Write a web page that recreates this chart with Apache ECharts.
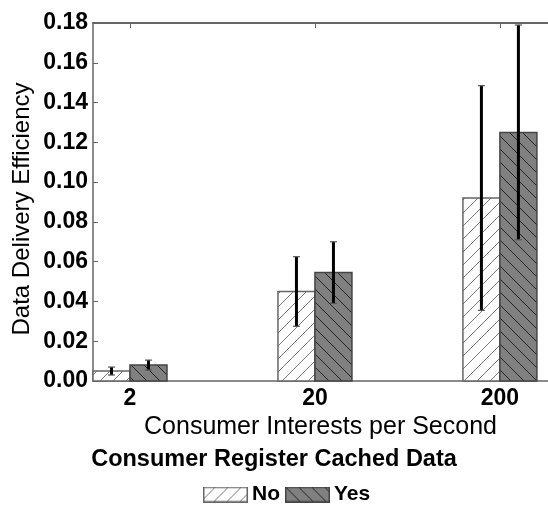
<!DOCTYPE html>
<html><head><meta charset="utf-8">
<script src="https://cdn.jsdelivr.net/npm/echarts@6/dist/echarts.min.js"></script>
<style>html,body{margin:0;padding:0;background:#fff}#c{width:548px;height:506px}</style>
</head><body><div id="c"></div>
<script>
// ---- data ----
const categories = ['2', '20', '200'];
const seriesNames = ['No', 'Yes'];
const noValues = [0.005, 0.045, 0.092];
const noErrors = [0.002, 0.0175, 0.0565];
const yesValues = [0.008, 0.0545, 0.125];
const yesErrors = [0.0025, 0.0155, 0.054];
const yMin = 0, yMax = 0.18, yStep = 0.02;
const xTitle = 'Consumer Interests per Second';
const yTitle = 'Data Delivery Efficiency';
const legendTitle = 'Consumer Register Cached Data';

// ---- style ----
const FONT = '"Liberation Sans", Arial, sans-serif';
const BAR_W = 0.2;
const HATCH = 13;
const AXIS_COLOR = '#666';

function hatchLines(x0, y0, x1, y1, dir, color) {
  const out = [];
  if (dir === 'fwd') { // "/" : x + y = c
    const cs = Math.ceil((x0 + y0) / HATCH), ce = Math.floor((x1 + y1) / HATCH);
    for (let k = cs; k <= ce; k++) {
      const c = k * HATCH;
      const xa = Math.max(x0, c - y1), xb = Math.min(x1, c - y0);
      if (xb > xa) out.push({type: 'line', shape: {x1: xa, y1: c - xa, x2: xb, y2: c - xb}, style: {stroke: color, lineWidth: 1}});
    }
  } else { // "\" : x - y = c
    const cs = Math.ceil((x0 - y1) / HATCH), ce = Math.floor((x1 - y0) / HATCH);
    for (let k = cs; k <= ce; k++) {
      const c = k * HATCH;
      const xa = Math.max(x0, c + y0), xb = Math.min(x1, c + y1);
      if (xb > xa) out.push({type: 'line', shape: {x1: xa, y1: xa - c, x2: xb, y2: xb - c}, style: {stroke: color, lineWidth: 1}});
    }
  }
  return out;
}

function makeRender(side, fill, edge, dir, hatchColor) {
  return function (params, api) {
    const cat = api.value(0), val = api.value(1), err = api.value(2);
    const left = side === 0 ? cat - BAR_W : cat;
    const right = left + BAR_W;
    const p0 = api.coord([left, val]);
    const p1 = api.coord([right, 0]);
    const x0 = p0[0], y0 = p0[1], x1 = p1[0], y1 = p1[1];
    const children = [];
    children.push({type: 'rect', shape: {x: x0, y: y0, width: x1 - x0, height: y1 - y0}, style: {fill: fill}});
    hatchLines(x0, y0, x1, y1, dir, hatchColor).forEach(l => children.push(l));
    children.push({type: 'rect', shape: {x: x0, y: y0, width: x1 - x0, height: y1 - y0}, style: {fill: 'none', stroke: edge, lineWidth: 1.5}});
    const xc = api.coord([left + BAR_W / 2, 0])[0];
    const eTop = api.coord([0, val + err])[1];
    const eBot = api.coord([0, val - err])[1];
    children.push({type: 'line', shape: {x1: xc, y1: eTop, x2: xc, y2: eBot}, style: {stroke: '#000', lineWidth: 3}});
    [eTop, eBot].forEach(yy => children.push({type: 'line', shape: {x1: xc - 3.5, y1: yy, x2: xc + 3.5, y2: yy}, style: {stroke: '#555', lineWidth: 1.2}}));
    return {type: 'group', children: children};
  };
}

function patchIcon(fill, edge, dir, hatchColor) {
  const w = 45, h = 16;
  const c = document.createElement('canvas'); c.width = w; c.height = h;
  const g = c.getContext('2d');
  g.fillStyle = fill; g.fillRect(0, 0, w, h);
  g.strokeStyle = hatchColor; g.lineWidth = 1;
  hatchLines(0, 0, w, h, dir, hatchColor).forEach(l => {
    g.beginPath(); g.moveTo(l.shape.x1, l.shape.y1); g.lineTo(l.shape.x2, l.shape.y2); g.stroke();
  });
  g.strokeStyle = edge; g.lineWidth = 1.5; g.strokeRect(0.75, 0.75, w - 1.5, h - 1.5);
  return 'image://' + c.toDataURL();
}

const NO_STYLE = ['#ffffff', '#666', 'fwd', '#777'];
const YES_STYLE = ['#808080', '#444', 'back', '#222'];

const catIdx = categories.map((_, i) => i);
const noData = catIdx.map(i => [i, noValues[i], noErrors[i]]);
const yesData = catIdx.map(i => [i, yesValues[i], yesErrors[i]]);

const chart = echarts.init(document.getElementById('c'), null, {renderer: 'canvas'});
chart.setOption({
  animation: false,
  backgroundColor: '#fff',
  grid: {left: 93, top: 23, right: 0, bottom: 125, containLabel: false},
  xAxis: [{
    type: 'value', min: -0.2, max: 2.26, position: 'bottom',
    axisLine: {show: true, onZero: false, lineStyle: {color: AXIS_COLOR, width: 1.5}},
    axisTick: {show: false},
    splitLine: {show: false},
    axisLabel: {
      customValues: catIdx, margin: 6,
      formatter: v => categories[Math.round(v)],
      fontFamily: FONT, fontWeight: 'bold', fontSize: 23, color: '#000'
    },
    name: xTitle, nameLocation: 'middle', nameGap: 29,
    nameTextStyle: {fontFamily: FONT, fontSize: 25, color: '#000'}
  }, {
    type: 'value', min: -0.2, max: 2.26, position: 'top',
    axisLine: {show: true, onZero: false, lineStyle: {color: AXIS_COLOR, width: 2}},
    axisTick: {show: true, inside: true, length: 5, customValues: catIdx, lineStyle: {color: AXIS_COLOR}},
    axisLabel: {show: false}, splitLine: {show: false}
  }],
  yAxis: [{
    type: 'value', min: yMin, max: yMax, interval: yStep,
    axisLine: {show: true, onZero: false, lineStyle: {color: AXIS_COLOR, width: 1.5}},
    axisTick: {show: true, inside: true, length: 5, lineStyle: {color: AXIS_COLOR}},
    splitLine: {show: false},
    axisLabel: {
      formatter: v => v.toFixed(2), margin: 5,
      fontFamily: FONT, fontWeight: 'bold', fontSize: 23, color: '#000'
    }
  }],
  legend: {
    left: 203, top: 484, itemWidth: 45, itemHeight: 16, itemGap: 5, padding: 0,
    selectedMode: false,
    textStyle: {fontFamily: FONT, fontWeight: 'bold', fontSize: 21, color: '#000', padding: [0, 0, 0, -1]},
    data: [
      {name: seriesNames[0], icon: patchIcon(...NO_STYLE)},
      {name: seriesNames[1], icon: patchIcon(...YES_STYLE)}
    ]
  },
  graphic: [{
    type: 'text', x: 274, y: 460,
    style: {text: legendTitle, fontFamily: FONT, fontWeight: 'bold', fontSize: 23.5, fill: '#000', textAlign: 'center', textVerticalAlign: 'middle'}
  }, {
    type: 'text', x: 22, y: 209, rotation: Math.PI / 2,
    style: {text: yTitle, fontFamily: FONT, fontSize: 24, fill: '#000', textAlign: 'center', textVerticalAlign: 'middle'}
  }],
  series: [
    {type: 'custom', name: seriesNames[0], xAxisIndex: 0, yAxisIndex: 0, renderItem: makeRender(0, ...NO_STYLE), data: noData, encode: {x: 0, y: 1}, itemStyle: {color: '#fff'}},
    {type: 'custom', name: seriesNames[1], xAxisIndex: 0, yAxisIndex: 0, renderItem: makeRender(1, ...YES_STYLE), data: yesData, encode: {x: 0, y: 1}, itemStyle: {color: '#808080'}}
  ]
});
</script>
</body></html>
